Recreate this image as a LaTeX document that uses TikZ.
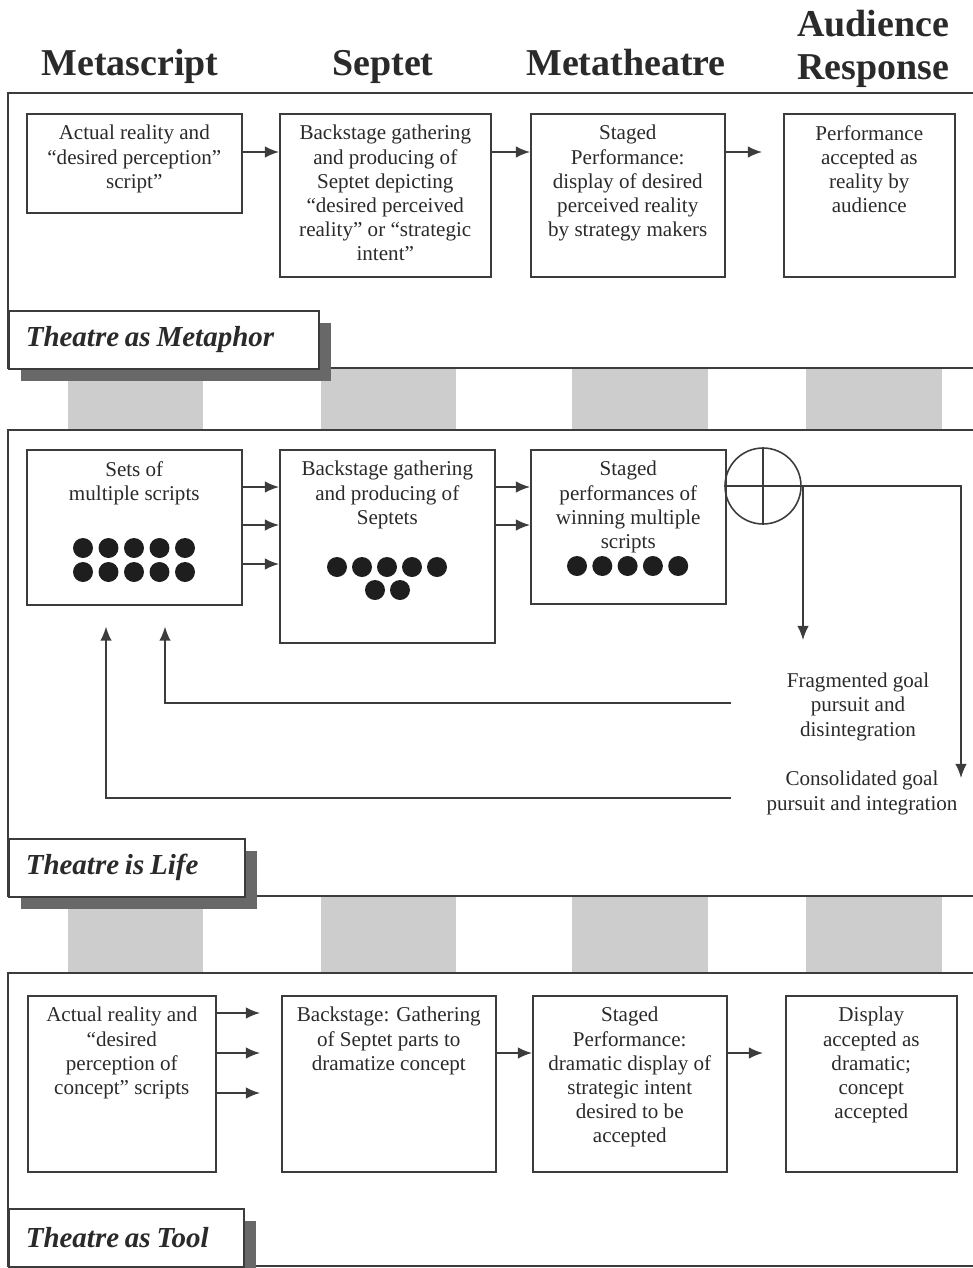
\documentclass[tikz,border=0pt]{standalone}
\usepackage{fontspec}
\setmainfont{Liberation Serif}
\usetikzlibrary{positioning,arrows.meta,shadows}
\definecolor{linegray}{HTML}{3C3C3C}
\definecolor{inkgray}{HTML}{2A2A2A}
\definecolor{bargray}{HTML}{CDCDCD}
\definecolor{shadowgray}{HTML}{686868}
\definecolor{dotblack}{HTML}{1E1E1E}
\newcommand\tagspace{\spaceskip=3.3pt\relax}

\begin{document}
\begin{tikzpicture}[x=0.02cm,y=-0.02cm]

\tikzstyle{stage}=[draw=linegray,line width=0.9pt,anchor=north west,inner sep=0pt]
\tikzstyle{stagetext}=[align=center,inner sep=0pt,text=inkgray,font=\fontsize{12}{13.7}\selectfont]
\tikzstyle{heading}=[anchor=base,align=center,inner sep=0pt,text=inkgray,font=\fontsize{21.6}{24.4}\selectfont\bfseries]
\tikzstyle{tag}=[draw=linegray,line width=0.9pt,fill=white,anchor=north west,
	inner xsep=0.34cm,minimum height=1.16cm,align=left,text=inkgray,
	font=\fontsize{16.5}{18}\selectfont\bfseries\itshape,
	drop shadow={shadow xshift=0.24cm,shadow yshift=-0.24cm,fill=shadowgray,opacity=1}]
\tikzstyle{frame}=[draw=linegray,line width=0.9pt]
\tikzstyle{edge}=[-{Latex[length=8pt,width=6.5pt]},draw=linegray,line width=0.9pt]
\tikzstyle{dot}=[fill=dotblack]
\tikzstyle{bar}=[fill=bargray]

\useasboundingbox (0,0) rectangle (973,1268);

% gray columns between the panels
\foreach \x/\w in {68/135,321/135,572/136,806/136}{
	\fill[bar] (\x,368) rectangle ++(\w,62);
	\fill[bar] (\x,896) rectangle ++(\w,77);
}

\node[heading](hscript) at (130,75){Metascript};
\node[heading](hseptet) at (383,75){Septet};
\node[heading](htheatre) at (626,75){Metatheatre};
\node[heading](haudience) at (873,79){Audience\\Response};

% panel 1
\draw[frame](973,93)--(8,93)--(8,368)--(973,368);

\node[stage,minimum width=4.3cm,minimum height=1.98cm](script1) at (26,113){};
\node[stagetext,below=0.24cm of script1.north]{Actual reality and\\“desired perception”\\script”};

\node[stage,minimum width=4.22cm,minimum height=3.26cm](septet1) at (279,113){};
\node[stagetext,below=0.24cm of septet1.north]{Backstage gathering\\and producing of\\Septet depicting\\“desired perceived\\reality” or “strategic\\intent”};

\node[stage,minimum width=3.88cm,minimum height=3.26cm](stage1) at (530,113){};
\node[stagetext,below=0.24cm of stage1.north]{Staged\\Performance:\\display of desired\\perceived reality\\by strategy makers};

\node[stage,minimum width=3.42cm,minimum height=3.26cm](response1) at (783,113){};
\node[stagetext,below=0.24cm of response1.north]{Performance\\accepted as\\reality by\\audience};

\draw[edge](script1.east |- 0,152)--(septet1.west |- 0,152);
\draw[edge](septet1.east |- 0,152)--(stage1.west |- 0,152);
\draw[edge,shorten >=0.42cm](stage1.east |- 0,152)--(response1.west |- 0,152);

\node[tag,text width=5.52cm](metaphor) at (8,310){\tagspace Theatre as Metaphor};

% panel 2
\draw[frame](973,430)--(8,430)--(8,896)--(973,896);

\node[stage,minimum width=4.3cm,minimum height=3.1cm](script2) at (26,449){};
\node[stagetext,below=0.24cm of script2.north]{Sets of\\multiple scripts};
\foreach \i in {0,...,4}{
	\fill[dot](83+25.5*\i,548) circle[radius=0.2cm];
	\fill[dot](83+25.5*\i,572) circle[radius=0.2cm];
}

\node[stage,minimum width=4.3cm,minimum height=3.86cm](septet2) at (279,449){};
\node[stagetext,below=0.24cm of septet2.north]{Backstage gathering\\and producing of\\Septets};
\foreach \i in {0,...,4}
	\fill[dot](337+25*\i,567) circle[radius=0.2cm];
\foreach \i in {0,1}
	\fill[dot](375+25*\i,590) circle[radius=0.2cm];

\node[stage,minimum width=3.9cm,minimum height=3.08cm](stage2) at (530,449){};
\node[stagetext,below=0.24cm of stage2.north]{Staged\\performances of\\winning multiple\\scripts};
\foreach \i in {0,...,4}
	\fill[dot](577+25.3*\i,566) circle[radius=0.2cm];

\foreach \y in {487,525,564}
	\draw[edge](script2.east |- 0,\y)--(septet2.west |- 0,\y);
\foreach \y in {487,525}
	\draw[edge](septet2.east |- 0,\y)--(stage2.west |- 0,\y);

\node[circle,draw=linegray,line width=0.9pt,minimum size=1.52cm,inner sep=0pt](merge) at (763,486){};
\draw[frame](merge.north)--(merge.south) (merge.west)--(merge.east);

\coordinate(fragend) at (803,640);
\coordinate(consend) at (961,778);
\draw[edge](merge.east)-|(consend);
\draw[edge](merge.east -| fragend)--(fragend);

\node[stagetext,anchor=base](frag) at (858,736){Fragmented goal\\pursuit and\\disintegration};
\node[stagetext,anchor=base](cons) at (862,810){Consolidated goal\\pursuit and integration};

\coordinate(fragback) at (731,703);
\coordinate(consback) at (731,798);
\draw[edge,shorten >=0.42cm](fragback)-|(script2.south -| 165,0);
\draw[edge,shorten >=0.42cm](consback)-|(script2.south -| 106,0);

\node[tag,text width=4.04cm](life) at (8,838){\tagspace Theatre is Life};

% panel 3
\draw[frame](973,973)--(8,973)--(8,1266)--(973,1266);

\node[stage,minimum width=3.76cm,minimum height=3.52cm](script3) at (27,995){};
\node[stagetext,below=0.24cm of script3.north]{Actual reality and\\“desired\\perception of\\concept” scripts};

\node[stage,minimum width=4.28cm,minimum height=3.52cm](septet3) at (281,995){};
\node[stagetext,below=0.24cm of septet3.north]{Backstage: Gathering\\of Septet parts to\\dramatize concept};

\node[stage,minimum width=3.88cm,minimum height=3.52cm](stage3) at (532,995){};
\node[stagetext,below=0.24cm of stage3.north]{Staged\\Performance:\\dramatic display of\\strategic intent\\desired to be\\accepted};

\node[stage,minimum width=3.42cm,minimum height=3.52cm](response3) at (785,995){};
\node[stagetext,below=0.24cm of response3.north]{Display\\accepted as\\dramatic;\\concept\\accepted};

\foreach \y in {1013,1053,1093}
	\draw[edge,shorten >=0.42cm](script3.east |- 0,\y)--(septet3.west |- 0,\y);
\draw[edge](septet3.east |- 0,1053)--(stage3.west |- 0,1053);
\draw[edge,shorten >=0.44cm](stage3.east |- 0,1053)--(response3.west |- 0,1053);

\node[tag,text width=4.02cm](tool) at (8,1208){\tagspace Theatre as Tool};

\end{tikzpicture}
\end{document}
